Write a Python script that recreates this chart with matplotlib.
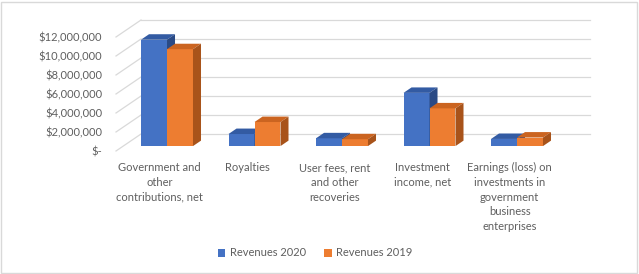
# revenue comparison chart, 3d-look column chart rebuilt with plain matplotlib

# import from python libraries and modules
import numpy as np
import matplotlib.pyplot as plt
from matplotlib.patches import Polygon, Rectangle
from matplotlib.ticker import FuncFormatter


#################### Data ####################


categories = ['Government and\nother\ncontributions, net',
              'Royalties',
              'User fees, rent\nand other\nrecoveries',
              'Investment\nincome, net',
              'Earnings (loss) on\ninvestments in\ngovernment\nbusiness\nenterprises']
revenues_2020 = [11200000, 1270000, 820000, 5600000, 750000]
revenues_2019 = [10200000, 2530000, 720000, 3970000, 900000]
series_names = ['Revenues 2020', 'Revenues 2019']
y_ticks = [0, 2000000, 4000000, 6000000, 8000000, 10000000, 12000000]


#################### Style ####################


plt.rcParams['font.family'] = ['Lato', 'DejaVu Sans']
text_color = '#5F5F5F'
grid_color = '#D9D9D9'
# front, top and side colours of each series
face_colors = [('#4472C4', '#335BA3', '#2A4A85'),
               ('#ED7D31', '#CB6420', '#A8531A')]

# oblique depth of the whole plot box (category units, value units)
DX = 0.286
DY = 1790000
# where the bars sit in depth and how deep they are (fraction of box)
bar_front = 0.29
bar_depth = 0.32
bar_width = 0.297


#################### Helpers ####################


def fmt_dollar(v, pos=None):
    '''

    Excel accounting style label, zero shown as a dash

    '''
    if v == 0:
        return '$-'
    return f'${v:,.0f}'


def draw_bar(ax, x_left, value, colors):
    '''

    Takes in the axes, left edge of the front face, the value and the three
    face colours and draws a column with a top and a right side face

    '''
    base = bar_front * DY
    x_left = x_left + bar_front * DX
    ddx = bar_depth * DX
    ddy = bar_depth * DY
    front = ax.bar(x_left, value, bar_width, bottom=base, align='edge',
                   color=colors[0], linewidth=0, zorder=3, clip_on=False)
    top = base + value
    x_right = x_left + bar_width
    ax.add_patch(Polygon([(x_left, top), (x_right, top),
                          (x_right + ddx, top + ddy), (x_left + ddx, top + ddy)],
                         closed=True, facecolor=colors[1], linewidth=0,
                         zorder=3, clip_on=False))
    ax.add_patch(Polygon([(x_right, base), (x_right + ddx, base + ddy),
                          (x_right + ddx, top + ddy), (x_right, top)],
                         closed=True, facecolor=colors[2], linewidth=0,
                         zorder=3, clip_on=False))
    return front


#################### Plot ####################


fig = plt.figure(figsize=(6.39, 2.74), dpi=100)
W, H = 639, 274
# axes is the front plane of the 3d box
ax = fig.add_axes([116 / W, 1 - 151 / H, 437.5 / W, 123.5 / H])
ax.set_xlim(-0.5, len(categories) - 0.5)
ax.set_ylim(0, 13000000)

# back wall gridlines and left wall diagonals
x_back_left = -0.5 + DX
x_back_right = len(categories) - 0.5 + DX * 1.45
for v in y_ticks:
    ax.plot([x_back_left, x_back_right], [v + DY, v + DY], color=grid_color,
            linewidth=0.9, zorder=1, clip_on=False)
    ax.plot([-0.5, x_back_left], [v, v + DY], color=grid_color,
            linewidth=0.9, zorder=1, clip_on=False)

# columns, blue then orange so orange covers the blue side face
x = np.arange(len(categories))
handles = [None, None]
for i in range(len(categories)):
    for j, values in enumerate([revenues_2020, revenues_2019]):
        bars = draw_bar(ax, x[i] - bar_width + j * bar_width, values[i],
                        face_colors[j])
        handles[j] = bars

# axes text
ax.set_yticks(y_ticks)
ax.yaxis.set_major_formatter(FuncFormatter(fmt_dollar))
ax.set_xticks(x)
ax.set_xticklabels(categories, linespacing=1.42)
ax.tick_params(axis='y', length=0, pad=10, labelsize=8, labelcolor=text_color)
ax.tick_params(axis='x', length=0, pad=8, labelsize=8, labelcolor=text_color)
for spine in ax.spines.values():
    spine.set_visible(False)
ax.patch.set_visible(False)

# legend under the category labels
fig.legend(handles, series_names, loc='center', ncol=2, frameon=False,
           bbox_to_anchor=(315 / W, 1 - 253 / H), fontsize=8,
           labelcolor=text_color, handlelength=0.7, handleheight=0.7,
           handletextpad=0.4, columnspacing=1.6)

# light chart area border
fig.patches.append(Rectangle((0.5 / W, 1.5 / H), 636.5 / W, 271 / H,
                             transform=fig.transFigure, fill=False,
                             edgecolor=grid_color, linewidth=1))

fig.savefig('out.png', dpi=100)
